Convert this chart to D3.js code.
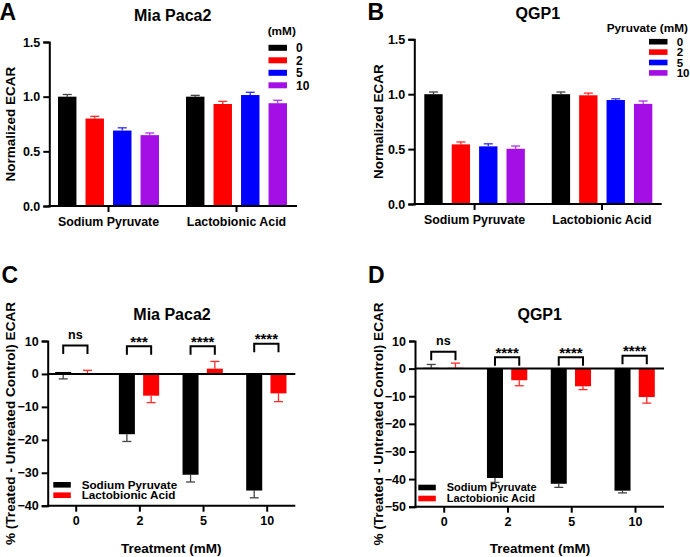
<!DOCTYPE html>
<html>
<head>
<meta charset="utf-8">
<script src="https://cdn.jsdelivr.net/npm/d3@7"></script>
<style>
  html, body { margin: 0; padding: 0; background: #fff; }
  svg { display: block; }
  text { font-family: "Liberation Sans", Arial, sans-serif; font-weight: bold; fill: #000; }
</style>
</head>
<body>
<svg id="chart" width="690" height="557"></svg>
<script>
// ---------------- DATA ----------------
const groupCats = ["Sodium Pyruvate", "Lactobionic Acid"];
const doses = ["0", "2", "5", "10"];
const doseColors = ["#000000", "#ff0000", "#0000ff", "#a30fe4"];
const errColors = ["#444444", "#ff2a2a", "#2a2aff", "#b030ea"];
const yTicksAB = [0, 0.5, 1.0, 1.5];

// Panel A (Mia Paca2) normalized ECAR: rows = group, cols = dose
const aMeans = [[1.00, 0.80, 0.69, 0.648], [1.00, 0.933, 1.015, 0.94]];
const aErrTop = [[1.02, 0.82, 0.715, 0.668], [1.012, 0.957, 1.04, 0.967]];
// Panel B (QGP1)
const bMeans = [[1.00, 0.543, 0.525, 0.503], [1.00, 0.99, 0.947, 0.912]];
const bErrTop = [[1.02, 0.565, 0.548, 0.528], [1.02, 1.01, 0.958, 0.938]];

const treatSeries = ["Sodium Pyruvate", "Lactobionic Acid"];
const treatColors = ["#000000", "#ff0000"];
const treatErrColors = ["#444444", "#ff2a2a"];
// Panel C (Mia Paca2) % difference
const cSP = [0.6, -18.3, -30.6, -35.4];
const cSPErr = [-1.5, -20.5, -32.8, -37.6];
const cLA = [0.2, -6.6, 1.6, -5.9];
const cLAErr = [1.1, -8.7, 3.8, -8.4];
const cSig = ["ns", "***", "****", "****"];
const cSigY = [8.6, 8.4, 8.4, 9.2];
const yTicksC = [10, 0, -10, -20, -30, -40];
// Panel D (QGP1)
const dSP = [0.3, -39.6, -41.7, -44.2];
const dSPErr = [1.5, -41.2, -43.0, -45.0];
const dLA = [0.3, -4.2, -6.4, -10.3];
const dLAErr = [2.0, -6.2, -7.6, -12.5];
const dSig = ["ns", "****", "****", "****"];
const dSigY = [6.1, 4.1, 4.1, 4.7];
const yTicksD = [10, 0, -10, -20, -30, -40, -50];

// ---------------- DRAWING ----------------
const svg = d3.select("#chart");

function styleAxis(g) {
  g.selectAll(".domain").attr("stroke", "#000").attr("stroke-width", 2);
  g.selectAll(".tick line").attr("stroke", "#000").attr("stroke-width", 2);
  g.selectAll(".tick text").style("font-family", '"Liberation Sans", Arial, sans-serif')
    .style("font-weight", "bold").style("font-size", "12.5px").attr("fill", "#000");
}

function drawGrouped(cfg) {
  const g = svg.append("g");
  const y = d3.scaleLinear().domain([0, 1.5]).range([cfg.y0, cfg.y1]);
  const xg = d3.scaleBand().domain(groupCats).range([cfg.barX0, cfg.barX1]).paddingInner(0.211);
  const xs = d3.scaleBand().domain(doses).range([0, xg.bandwidth()]).paddingInner(0.33);

  const rows = [];
  groupCats.forEach((gc, gi) => doses.forEach((d, di) => {
    rows.push({ g: gc, d, di, v: cfg.means[gi][di], e: cfg.errTop[gi][di] });
  }));

  // error bars
  const eb = g.append("g");
  rows.forEach(r => {
    const cx = xg(r.g) + xs(r.d) + xs.bandwidth() / 2;
    eb.append("line").attr("x1", cx).attr("x2", cx).attr("y1", y(r.v)).attr("y2", y(r.e))
      .attr("stroke", errColors[r.di]).attr("stroke-width", 1.3);
    eb.append("line").attr("x1", cx - 4.5).attr("x2", cx + 4.5).attr("y1", y(r.e)).attr("y2", y(r.e))
      .attr("stroke", errColors[r.di]).attr("stroke-width", 1.3);
  });
  g.append("g").selectAll("rect").data(rows).join("rect")
    .attr("x", r => xg(r.g) + xs(r.d))
    .attr("width", xs.bandwidth())
    .attr("y", r => y(r.v))
    .attr("height", r => y(0) - y(r.v))
    .attr("fill", r => doseColors[r.di]);

  // y axis
  const ya = g.append("g").attr("transform", `translate(${cfg.axisX0},0)`)
    .call(d3.axisLeft(y).tickValues(yTicksAB).tickFormat(d3.format(".1f")).tickSizeOuter(0).tickSize(6).tickPadding(3));
  styleAxis(ya);
  // x axis baseline + ticks
  g.append("line").attr("x1", cfg.axisX0 - 1).attr("x2", cfg.axisX1).attr("y1", y(0)).attr("y2", y(0))
    .attr("stroke", "#000").attr("stroke-width", 2);
  groupCats.forEach(gc => {
    const cx = xg(gc) + xg.bandwidth() / 2;
    g.append("line").attr("x1", cx).attr("x2", cx).attr("y1", y(0)).attr("y2", y(0) + 6)
      .attr("stroke", "#000").attr("stroke-width", 2);
    g.append("text").attr("x", cx).attr("y", y(0) + 19.5).attr("text-anchor", "middle")
      .style("font-size", "12.4px").text(gc);
  });

  // title, letter, y label
  g.append("text").attr("x", cfg.titleX).attr("y", cfg.titleY).attr("text-anchor", "middle")
    .style("font-size", "16px").text(cfg.title);
  g.append("text").attr("x", cfg.letterX).attr("y", cfg.letterY).style("font-size", "23px").text(cfg.letter);
  g.append("text").attr("transform", `translate(${cfg.ylabX},${cfg.ylabY}) rotate(-90)`)
    .attr("text-anchor", "middle").style("font-size", "13.5px").text("Normalized ECAR");

  // legend
  const lg = g.append("g");
  lg.append("text").attr("x", cfg.legTitleX).attr("y", cfg.legTitleY).style("font-size", cfg.legFont + "px").text(cfg.legTitle);
  doses.forEach((d, i) => {
    const cy = cfg.legY0 + i * cfg.legStep;
    lg.append("rect").attr("x", cfg.legSwX).attr("y", cy - cfg.legSwH / 2).attr("width", 18.5).attr("height", cfg.legSwH)
      .attr("fill", doseColors[i]);
    lg.append("text").attr("x", cfg.legTextX).attr("y", cy).attr("dy", "0.36em")
      .style("font-size", cfg.legLabFont + "px").text(d);
  });
}

function drawDiff(cfg) {
  const g = svg.append("g");
  const y = d3.scaleLinear().domain(cfg.yDomain).range([cfg.yBottom, cfg.yTop]);
  const x = d3.scalePoint().domain(doses).range([cfg.tick0, cfg.tick1]);
  const xs = d3.scaleBand().domain(treatSeries).range([-20.5, 19.8]).paddingInner(0.34);

  const series = [cfg.sp, cfg.la];
  const errs = [cfg.spErr, cfg.laErr];
  const rows = [];
  treatSeries.forEach((s, si) => doses.forEach((d, di) => {
    rows.push({ s, si, d, v: series[si][di], e: errs[si][di] });
  }));

  const eb = g.append("g");
  rows.forEach(r => {
    const cx = x(r.d) + xs(r.s) + xs.bandwidth() / 2;
    eb.append("line").attr("x1", cx).attr("x2", cx).attr("y1", y(r.v)).attr("y2", y(r.e))
      .attr("stroke", treatErrColors[r.si]).attr("stroke-width", 1.3);
    eb.append("line").attr("x1", cx - 4.5).attr("x2", cx + 4.5).attr("y1", y(r.e)).attr("y2", y(r.e))
      .attr("stroke", treatErrColors[r.si]).attr("stroke-width", 1.3);
  });
  g.append("g").selectAll("rect").data(rows).join("rect")
    .attr("x", r => x(r.d) + xs(r.s))
    .attr("width", xs.bandwidth())
    .attr("y", r => Math.min(y(r.v), y(0)))
    .attr("height", r => Math.abs(y(r.v) - y(0)))
    .attr("fill", r => treatColors[r.si]);

  // zero line
  g.append("line").attr("x1", cfg.axisX0).attr("x2", cfg.axisX1).attr("y1", y(0)).attr("y2", y(0))
    .attr("stroke", "#000").attr("stroke-width", 2);
  // y axis
  const ya = g.append("g").attr("transform", `translate(${cfg.axisX0},0)`)
    .call(d3.axisLeft(y).tickValues(cfg.yTicks).tickFormat(d3.format("d")).tickSizeOuter(0).tickSize(6).tickPadding(3));
  styleAxis(ya);
  // x axis at bottom
  const xa = g.append("g").attr("transform", `translate(0,${cfg.yBottom})`)
    .call(d3.axisBottom(x).tickSize(6).tickPadding(4));
  xa.select(".domain").remove();
  styleAxis(xa);
  g.append("line").attr("x1", cfg.axisX0 - 1).attr("x2", cfg.axisX1).attr("y1", cfg.yBottom).attr("y2", cfg.yBottom)
    .attr("stroke", "#000").attr("stroke-width", 2);

  // significance brackets
  doses.forEach((d, i) => {
    const xl = x(d) + xs(treatSeries[0]) + xs.bandwidth() / 2;
    const xr = x(d) + xs(treatSeries[1]) + xs.bandwidth() / 2;
    const yt = y(cfg.sigY[i]);
    g.append("path").attr("d", `M${xl},${yt + 8.5}V${yt}H${xr}V${yt + 8.5}`)
      .attr("fill", "none").attr("stroke", "#000").attr("stroke-width", 2);
    const lab = cfg.sig[i];
    if (lab === "ns") {
      g.append("text").attr("x", (xl + xr) / 2).attr("y", yt - 7).attr("text-anchor", "middle")
        .style("font-size", "12.5px").text(lab);
    } else {
      g.append("text").attr("x", (xl + xr) / 2).attr("y", yt + 0.5).attr("text-anchor", "middle")
        .style("font-size", "15px").text(lab);
    }
  });

  // legend
  treatSeries.forEach((s, i) => {
    const cy = cfg.legY0 + i * cfg.legStep;
    g.append("rect").attr("x", cfg.legSwX).attr("y", cy - 2.8).attr("width", 17.5).attr("height", 5.6)
      .attr("fill", treatColors[i]);
    g.append("text").attr("x", cfg.legTextX).attr("y", cy).attr("dy", "0.36em")
      .style("font-size", cfg.legFont + "px").text(s);
  });

  // title, letter, labels
  g.append("text").attr("x", cfg.titleX).attr("y", cfg.titleY).attr("text-anchor", "middle")
    .style("font-size", "16px").text(cfg.title);
  g.append("text").attr("x", cfg.letterX).attr("y", cfg.letterY).style("font-size", "23px").text(cfg.letter);
  g.append("text").attr("transform", `translate(${cfg.ylabX},${cfg.ylabY}) rotate(-90)`)
    .attr("text-anchor", "middle").style("font-size", "13.6px").text("% (Treated - Untreated Control) ECAR");
  g.append("text").attr("x", cfg.xlabX).attr("y", cfg.xlabY).attr("text-anchor", "middle")
    .style("font-size", "13.5px").text("Treatment (mM)");
}

drawGrouped({
  means: aMeans, errTop: aErrTop,
  y0: 206, y1: 42, barX0: 58, barX1: 287, axisX0: 49.3, axisX1: 297,
  title: "Mia Paca2", titleX: 172.7, titleY: 20.5,
  letter: "A", letterX: -0.5, letterY: 20,
  ylabX: 15, ylabY: 124.2,
  legTitle: "(mM)", legTitleX: 267.7, legTitleY: 35, legFont: 11.8, legLabFont: 12,
  legSwX: 268.5, legSwH: 6, legY0: 47.8, legStep: 12.5, legTextX: 296
});
drawGrouped({
  means: bMeans, errTop: bErrTop,
  y0: 204, y1: 39.3, barX0: 424.3, barX1: 652.3, axisX0: 414.3, axisX1: 661.7,
  title: "QGP1", titleX: 537.8, titleY: 18.8,
  letter: "B", letterX: 367.5, letterY: 20,
  ylabX: 382.5, ylabY: 121.7,
  legTitle: "Pyruvate (mM)", legTitleX: 606.7, legTitleY: 31.5, legFont: 11.8, legLabFont: 11.5,
  legSwX: 649, legSwH: 5.6, legY0: 41.7, legStep: 10.4, legTextX: 676.7
});
drawDiff({
  sp: cSP, spErr: cSPErr, la: cLA, laErr: cLAErr, sig: cSig, sigY: cSigY,
  yDomain: [-40, 10], yBottom: 505.7, yTop: 341, yTicks: yTicksC,
  tick0: 75.7, tick1: 266.7, axisX0: 47.7, axisX1: 295.3,
  legSwX: 53.3, legY0: 484.8, legStep: 10.4, legTextX: 81.7, legFont: 11.7,
  title: "Mia Paca2", titleX: 172, titleY: 320,
  letter: "C", letterX: 1.5, letterY: 283,
  ylabX: 14.5, ylabY: 423.5, xlabX: 171.2, xlabY: 552.5
});
drawDiff({
  sp: dSP, spErr: dSPErr, la: dLA, laErr: dLAErr, sig: dSig, sigY: dSigY,
  yDomain: [-50, 10], yBottom: 506.7, yTop: 341, yTicks: yTicksD,
  tick0: 443.7, tick1: 635, axisX0: 415, axisX1: 664,
  legSwX: 418.3, legY0: 487.5, legStep: 11, legTextX: 446.7, legFont: 11,
  title: "QGP1", titleX: 539.7, titleY: 320,
  letter: "D", letterX: 368, letterY: 283,
  ylabX: 382.5, ylabY: 424, xlabX: 540, xlabY: 552.5
});
</script>
</body>
</html>
